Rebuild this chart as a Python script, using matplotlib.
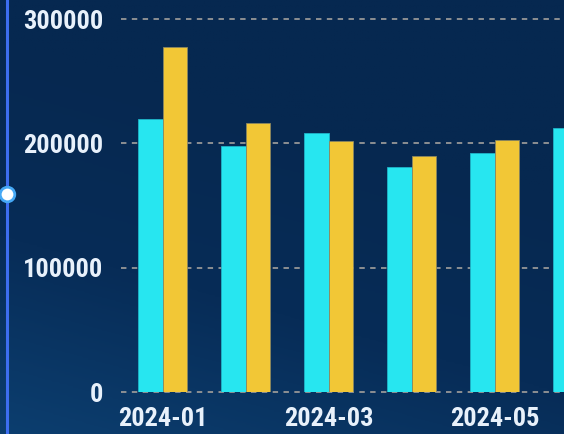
import matplotlib
matplotlib.use('Agg')
import matplotlib.pyplot as plt
from matplotlib import font_manager
import numpy as np
from matplotlib.colors import LinearSegmentedColormap

months = ['2024-01', '2024-02', '2024-03', '2024-04', '2024-05', '2024-06']
series_a = [219600, 198000, 208500, 180700, 192500, 212300]
series_b = [277700, 216000, 202000, 190000, 202400, 224000]
yticks = [0, 100000, 200000, 300000]


def pickFont():
    # condensed family if there is one, else Roboto
    names = set(f.name for f in font_manager.fontManager.ttflist)
    for name, size in [('Liberation Sans Narrow', 20), ('DejaVu Sans Condensed', 15.5),
                       ('Roboto Condensed', 19)]:
        if name in names:
            return name, size, 'normal'
    for f in font_manager.fontManager.ttflist:
        if f.name == 'DejaVu Sans' and f.stretch == 'condensed':
            return 'DejaVu Sans', 15.5, 'condensed'
    return 'Roboto', 17, 'normal'


fname, fsize, fstretch = pickFont()
font = [fname, 'DejaVu Sans']

W, H = 564, 434
fig = plt.figure(figsize=(W / 100, H / 100), dpi=100)

# background gradient
bg = fig.add_axes([0, 0, 1, 1])
cmap = LinearSegmentedColormap.from_list('bg', ['#0c3e6f', '#072c57', '#062850'])
yy, xx = np.mgrid[0:1:200j, 0:1:200j]
grad = np.clip((1 - yy) * 1.1 + xx * 0.4, 0, 1)
bg.imshow(grad, cmap=cmap, extent=[0, 1, 0, 1], aspect='auto', origin='upper')
bg.axis('off')
bg.set_xlim(0, 1)
bg.set_ylim(0, 1)

# slider line on the left
bg.plot([7 / W, 7 / W], [0, 1], color='#3d6ef0', lw=2.2)
bg.scatter([7 / W], [1 - 194 / H], s=110, color='white', edgecolor='#45a8f5', linewidth=2, zorder=5)

txt = '#e8f1fb'

left = 121 / W
bottom = (H - 392) / H
ax = fig.add_axes([left, bottom, 1 - left, 1 - bottom])
ax.patch.set_alpha(0)
px_per_unit = 124.33 / 100000
ax.set_ylim(0, 392 / px_per_unit)
ax.set_xlim(-0.5, -0.5 + (W - 121) / 83)

x = np.arange(len(months))
bw = 0.295
ax.bar(x - bw / 2, series_a, bw, color='#27e6f0', edgecolor='#1fb4c8', linewidth=0.6, zorder=3)
ax.bar(x + bw / 2, series_b, bw, color='#f2c736', edgecolor='#8a8660', linewidth=0.6, zorder=3)

for v in yticks:
    ax.axhline(v, color='#979797', lw=1.3, ls=(0, (3, 3)), clip_on=False, zorder=2)

for s in ax.spines.values():
    s.set_visible(False)

ax.set_yticks(yticks)
ax.set_yticklabels([str(v) for v in yticks], family=font, fontweight='bold',
                   fontstretch=fstretch, fontsize=fsize, color=txt)
ax.set_xticks(x[::2])
ax.set_xticklabels(months[::2], family=font, fontweight='bold',
                   fontstretch=fstretch, fontsize=fsize, color=txt)
ax.tick_params(axis='y', length=0, pad=13)
ax.tick_params(axis='x', length=0, pad=11)

fig.savefig('out.png', dpi=100)
